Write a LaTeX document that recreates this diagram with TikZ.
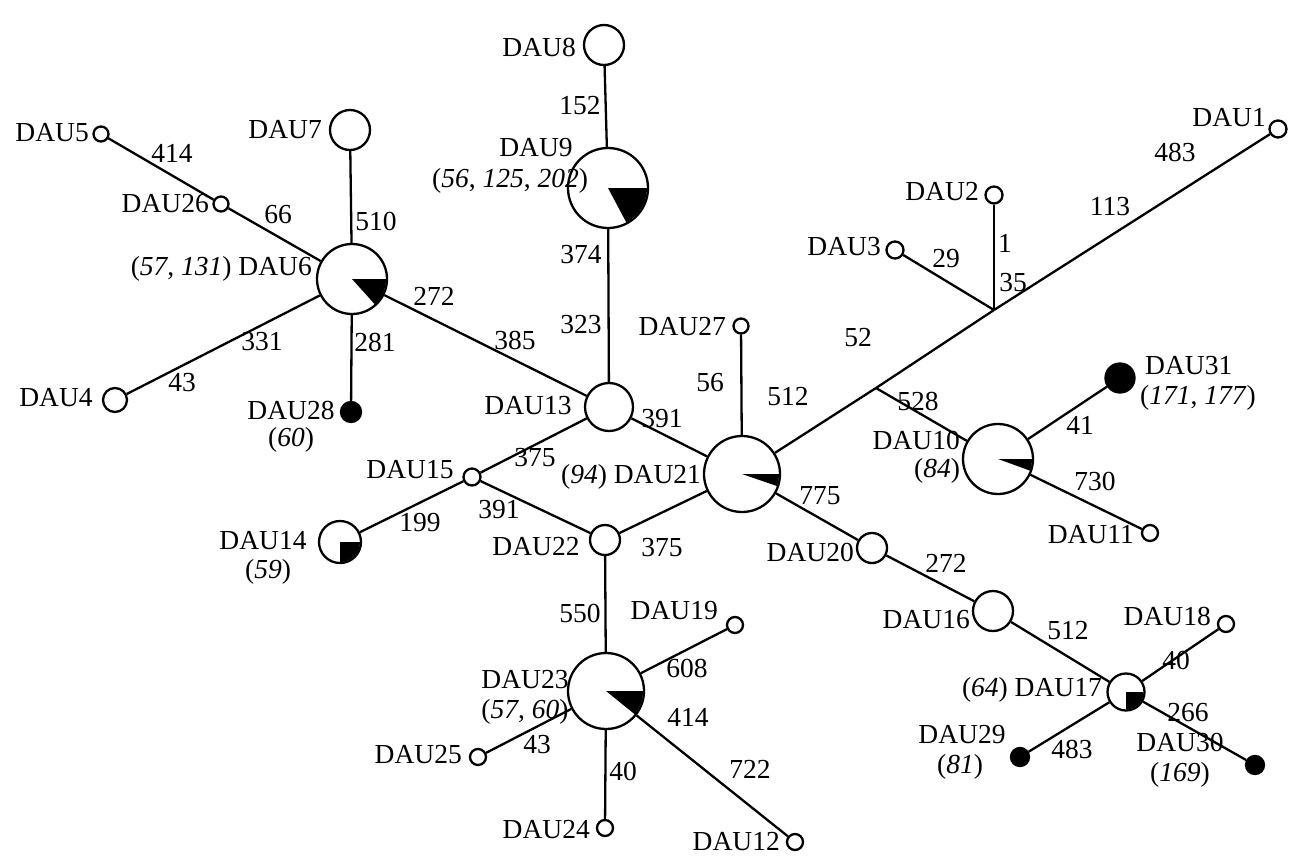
\documentclass[tikz,border=0pt]{standalone}
\usepackage{fontspec}
\setmainfont{Liberation Serif}
\begin{document}
\begin{tikzpicture}[x=1pt,y=-1pt,
  lw/.style={line width=2.3pt},
  hap/.style={circle,draw,lw,fill=white,inner sep=0pt,minimum size=#1},
  dot/.style={circle,draw,lw,fill=black,inner sep=0pt,minimum size=#1},
  txt/.style={inner sep=0pt,font=\fontsize{27.5}{30}\selectfont},
  edge/.style={lw}]
\useasboundingbox (0,0) rectangle (1290,857);
\newcommand{\pieslice}[3]{\fill (#1.center) -- ++(0:#2) arc[start angle=0,end angle=#3,radius=#2] -- cycle;}
% haplotype nodes
\node[hap=40] (n8) at (604,45) {};
\node[hap=80] (n9) at (608,188) {};
\node[hap=40] (n7) at (350,130) {};
\node[hap=15] (n5) at (101,134) {};
\node[hap=15] (n26) at (221,204) {};
\node[hap=70] (n6) at (352,279) {};
\node[hap=24] (n4) at (115,400) {};
\node[dot=20] (n28) at (351,412) {};
\node[hap=48] (n13) at (609,407) {};
\node[hap=17] (n15) at (472,477) {};
\node[hap=42] (n14) at (340,542) {};
\node[hap=30] (n22) at (605,540) {};
\node[hap=76] (n21) at (742,474) {};
\node[hap=15] (n27) at (741,326) {};
\node[hap=76] (n23) at (606,691) {};
\node[hap=16] (n19) at (735,625) {};
\node[hap=16] (n25) at (478,757) {};
\node[hap=16] (n24) at (605,828) {};
\node[hap=16] (n12) at (795,842) {};
\node[hap=30] (n20) at (872,548) {};
\node[hap=40] (n16) at (993,611) {};
\node[hap=37] (n17) at (1126,692) {};
\node[hap=16] (n18) at (1226,624) {};
\node[dot=18] (n29) at (1020,757) {};
\node[dot=18] (n30) at (1255,765) {};
\node[hap=70] (n10) at (998,459) {};
\node[dot=29] (n31) at (1120,378) {};
\node[hap=16] (n11) at (1150,533) {};
\node[hap=17] (n1) at (1278,129) {};
\node[hap=17] (n2) at (994,195) {};
\node[hap=17] (n3) at (895,250) {};
\coordinate (j1) at (994,310);
\coordinate (j2) at (876,388);
% connectors
\draw[edge] (n8) -- (n9);
\draw[edge] (n9) -- (n13);
\draw[edge] (n7) -- (n6);
\draw[edge] (n5) -- (n26);
\draw[edge] (n26) -- (n6);
\draw[edge] (n6) -- (n13);
\draw[edge] (n6) -- (n4);
\draw[edge] (n6) -- (n28);
\draw[edge] (n13) -- (n21);
\draw[edge] (n13) -- (n15);
\draw[edge] (n15) -- (n14);
\draw[edge] (n15) -- (n22);
\draw[edge] (n22) -- (n21);
\draw[edge] (n22) -- (n23);
\draw[edge] (n27) -- (n21);
\draw[edge] (n21) -- (j2);
\draw[edge] (j2) -- (j1);
\draw[edge] (j1) -- (n1);
\draw[edge] (j1) -- (n2);
\draw[edge] (j1) -- (n3);
\draw[edge] (j2) -- (n10);
\draw[edge] (n10) -- (n31);
\draw[edge] (n10) -- (n11);
\draw[edge] (n21) -- (n20);
\draw[edge] (n20) -- (n16);
\draw[edge] (n16) -- (n17);
\draw[edge] (n17) -- (n18);
\draw[edge] (n17) -- (n30);
\draw[edge] (n17) -- (n29);
\draw[edge] (n23) -- (n19);
\draw[edge] (n23) -- (n12);
\draw[edge] (n23) -- (n25);
\draw[edge] (n23) -- (n24);
% pie wedges
\pieslice{n9}{39}{62}
\pieslice{n6}{34}{48}
\pieslice{n21}{37}{19}
\pieslice{n10}{34}{20}
\pieslice{n23}{37}{39}
\pieslice{n17}{17.5}{90}
\pieslice{n14}{20}{90}
% edge labels
\node[txt] (e1) at (580,106) {152};
\node[txt] (e2) at (581,255) {374};
\node[txt] (e3) at (581,325) {323};
\node[txt] (e4) at (376,221) {510};
\node[txt] (e5) at (172,153) {414};
\node[txt] (e6) at (278,215) {66};
\node[txt] (e7) at (434,296) {272};
\node[txt] (e8) at (515,340) {385};
\node[txt] (e9) at (262,342) {331};
\node[txt] (e10) at (182,383) {43};
\node[txt] (e11) at (375,342) {281};
\node[txt] (e12) at (662,419) {391};
\node[txt] (e13) at (535,458) {375};
\node[txt] (e14) at (420,523) {199};
\node[txt] (e15) at (499,510) {391};
\node[txt] (e16) at (662,548) {375};
\node[txt] (e17) at (580,613) {550};
\node[txt] (e18) at (710,383) {56};
\node[txt] (e19) at (788,397) {512};
\node[txt] (e20) at (858,338) {52};
\node[txt] (e21) at (1013,283) {35};
\node[txt] (e22) at (1110,207) {113};
\node[txt] (e23) at (1175,152) {483};
\node[txt] (e24) at (1005,243) {1};
\node[txt] (e25) at (946,259) {29};
\node[txt] (e26) at (918,401) {528};
\node[txt] (e27) at (1080,425) {41};
\node[txt] (e28) at (1095,481) {730};
\node[txt] (e29) at (820,496) {775};
\node[txt] (e30) at (946,563) {272};
\node[txt] (e31) at (1068,631) {512};
\node[txt] (e32) at (1176,660) {40};
\node[txt] (e33) at (1188,713) {266};
\node[txt] (e34) at (1072,749) {483};
\node[txt] (e35) at (687,668) {608};
\node[txt] (e36) at (688,717) {414};
\node[txt] (e37) at (750,769) {722};
\node[txt] (e38) at (537,745) {43};
\node[txt] (e39) at (623,771) {40};
% node labels
\node[txt,anchor=east] (l8) at (576,47) {DAU8};
\node[txt] (l9) at (536,148) {DAU9};
\node[txt] (l9b) at (510,181) {(\textit{56}, \textit{125}, \textit{202})};
\node[txt,anchor=east] (l7) at (322,130) {DAU7};
\node[txt,anchor=east] (l5) at (89,133) {DAU5};
\node[txt,anchor=east] (l26) at (209,204) {DAU26};
\node[txt,anchor=east] (l6) at (312,269) {(\textit{57}, \textit{131}) DAU6};
\node[txt] (l4) at (56,398) {DAU4};
\node[txt] (l28) at (291,410) {DAU28};
\node[txt] (l28b) at (291,440) {(\textit{60})};
\node[txt] (l13) at (528,406) {DAU13};
\node[txt] (l15) at (410,470) {DAU15};
\node[txt] (l14) at (263,541) {DAU14};
\node[txt] (l14b) at (268,572) {(\textit{59})};
\node[txt] (l22) at (536,547) {DAU22};
\node[txt,anchor=west] (l21) at (561,477) {(\textit{94}) DAU21};
\node[txt,anchor=east] (l27) at (726,327) {DAU27};
\node[txt] (l23) at (525,680) {DAU23};
\node[txt] (l23b) at (525,712) {(\textit{57}, \textit{60})};
\node[txt,anchor=east] (l19) at (718,611) {DAU19};
\node[txt,anchor=east] (l25) at (462,755) {DAU25};
\node[txt,anchor=east] (l24) at (590,830) {DAU24};
\node[txt,anchor=east] (l12) at (780,842) {DAU12};
\node[txt,anchor=east] (l20) at (854,552) {DAU20};
\node[txt,anchor=east] (l16) at (970,620) {DAU16};
\node[txt,anchor=east] (l17) at (1102,690) {(\textit{64}) DAU17};
\node[txt,anchor=east] (l18) at (1211,616) {DAU18};
\node[txt] (l29) at (962,735) {DAU29};
\node[txt] (l29b) at (960,767) {(\textit{81})};
\node[txt] (l30) at (1180,742) {DAU30};
\node[txt] (l30b) at (1180,775) {(\textit{169})};
\node[txt,anchor=east] (l10) at (960,440) {DAU10};
\node[txt] (l10b) at (937,471) {(\textit{84})};
\node[txt,anchor=east] (l11) at (1134,535) {DAU11};
\node[txt,anchor=west] (l31) at (1145,366) {DAU31};
\node[txt,anchor=west] (l31b) at (1140,398) {(\textit{171}, \textit{177})};
\node[txt,anchor=east] (l1) at (1266,118) {DAU1};
\node[txt,anchor=east] (l2) at (979,192) {DAU2};
\node[txt,anchor=east] (l3) at (881,247) {DAU3};
\end{tikzpicture}
\end{document}
